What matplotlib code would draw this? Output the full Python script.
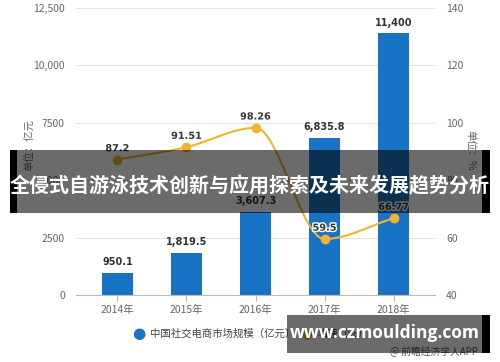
import matplotlib
matplotlib.use("Agg")
import matplotlib.pyplot as plt
import matplotlib.patheffects as pe
from matplotlib.path import Path
from matplotlib.patches import PathPatch, Rectangle
import numpy as np

plt.rcParams['font.family'] = ['Noto Sans CJK SC', 'DejaVu Sans']

categories = ["2014年", "2015年", "2016年", "2017年", "2018年"]
market_size = [950.1, 1819.5, 3607.3, 6835.8, 11400]
market_labels = ["950.1", "1,819.5", "3,607.3", "6,835.8", "11,400"]
growth = [87.2, 91.51, 98.26, 59.5, 66.77]
growth_labels = ["87.2", "91.51", "98.26", "59.5", "66.77"]
left_ticks = [0, 2500, 5000, 7500, 10000, 12500]
left_tick_labels = ["0", "2500", "5000", "7500", "10,000", "12,500"]
right_ticks = [40, 60, 80, 100, 120, 140]
legend_names = ["中国社交电商市场规模（亿元）", "增速（%）"]
title_text = "全侵式自游泳技术创新与应用探索及未来发展趋势分析"
site_text = "www.czmoulding.com"
source_text = "@ 前瞻经济学人APP"

BLUE = "#1873c5"
GOLD = "#efb432"
GRID = "#e3e3e3"
TICK = "#666666"

W, H = 500, 362
fig = plt.figure(figsize=(W / 100, H / 100), dpi=100)
ax = fig.add_axes([76 / W, 1 - 295 / H, (435 - 76) / W, (295 - 8) / H])
ax2 = ax.twinx()

x = np.arange(len(categories))
ax.bar(x, market_size, width=0.46, color=BLUE, zorder=2)
ax.set_xlim(-0.6, 4.6)
ax.set_ylim(0, 12500)
ax.set_yticks(left_ticks)
ax.set_yticklabels(left_tick_labels)
ax.set_xticks(x)
ax.set_xticklabels(categories)
ax.grid(axis='y', color=GRID, linewidth=0.8, zorder=0)
ax.set_axisbelow(True)
for s in ["top", "right", "left"]:
    ax.spines[s].set_visible(False)
ax.spines["bottom"].set_color("#bbbbbb")
ax.tick_params(axis='y', length=0, labelsize=7.5, labelcolor=TICK, pad=8)
ax.tick_params(axis='x', length=4, color="#bbbbbb", labelsize=7.5, labelcolor=TICK, pad=3)

for xi, v, lab in zip(x, market_size, market_labels):
    ax.text(xi, v + 250, lab, ha='center', va='bottom', fontsize=7, fontweight='bold',
            color="#333333", family=['DejaVu Sans'], zorder=5)

ax2.set_ylim(40, 140)
ax2.set_yticks(right_ticks)
for s in ["top", "right", "left", "bottom"]:
    ax2.spines[s].set_visible(False)
ax2.tick_params(axis='y', length=0, labelsize=7.5, labelcolor=TICK, pad=8)

# smooth curve through points with cubic bezier segments
ys = np.array(growth, dtype=float)
n = len(ys)
tang = np.zeros(n)
for i in range(n):
    if i == 0:
        tang[i] = ys[1] - ys[0]
    elif i == n - 1:
        tang[i] = ys[-1] - ys[-2]
    else:
        if (ys[i] - ys[i - 1]) * (ys[i + 1] - ys[i]) <= 0:
            tang[i] = 0
        else:
            tang[i] = (ys[i + 1] - ys[i - 1]) / 2
verts = [(x[0], ys[0])]
codes = [Path.MOVETO]
for i in range(n - 1):
    verts += [(x[i] + 1 / 3, ys[i] + tang[i] / 3),
              (x[i + 1] - 1 / 3, ys[i + 1] - tang[i + 1] / 3),
              (x[i + 1], ys[i + 1])]
    codes += [Path.CURVE4] * 3
ax2.add_patch(PathPatch(Path(verts, codes), facecolor='none', edgecolor=GOLD, linewidth=1.5, zorder=3))
ax2.plot(x, growth, linestyle='none', marker='o', markersize=6, color=GOLD, zorder=4)
for xi, v, lab in zip(x, growth, growth_labels):
    ax2.text(xi, v + 2.2, lab, ha='center', va='bottom', fontsize=7, fontweight='bold',
             color="#333333", family=['DejaVu Sans'], zorder=5,
             path_effects=[pe.withStroke(linewidth=2, foreground='white')])

# axis unit labels
fig.text(30 / W, 1 - 145 / H, "单位：亿元", rotation=90, ha='center', va='center', fontsize=7.5, color=TICK)
fig.text(470 / W, 1 - 150 / H, "单位：%", rotation=-90, ha='center', va='center', fontsize=7.5, color=TICK)

# legend
fig.text(139 / W, 1 - 334 / H, "●", ha='center', va='center', fontsize=11, color=BLUE, family=['DejaVu Sans'])
fig.text(150 / W, 1 - 334 / H, legend_names[0], ha='left', va='center', fontsize=7.5, color="#444444")
fig.text(307 / W, 1 - 334 / H, "●", ha='center', va='center', fontsize=9, color=GOLD, family=['DejaVu Sans'])
fig.text(318 / W, 1 - 334 / H, legend_names[1], ha='left', va='center', fontsize=7.5, color="#444444")

fig.text(478 / W, 1 - 352 / H, source_text, ha='right', va='center', fontsize=7, color="#555555")

# title banner overlay
fig.patches.append(Rectangle((10 / W, 1 - 213 / H), 480 / W, 63 / H, transform=fig.transFigure,
                             facecolor='black', alpha=0.58, edgecolor='none', zorder=10))
fig.patches.append(Rectangle((10 / W, 1 - 213 / H), 7 / W, 63 / H, transform=fig.transFigure,
                             facecolor='black', edgecolor='none', zorder=11))
fig.patches.append(Rectangle((482 / W, 1 - 213 / H), 8 / W, 63 / H, transform=fig.transFigure,
                             facecolor='black', edgecolor='none', zorder=11))
fig.text(250 / W, 1 - 186 / H, title_text, ha='center', va='center', fontsize=14.4,
         fontweight='bold', color='white', zorder=12)

# site banner overlay
fig.patches.append(Rectangle((287 / W, 1 - 353 / H), 203 / W, 38 / H, transform=fig.transFigure,
                             facecolor='black', alpha=0.58, edgecolor='none', zorder=10))
fig.patches.append(Rectangle((482 / W, 1 - 353 / H), 8 / W, 38 / H, transform=fig.transFigure,
                             facecolor='black', edgecolor='none', zorder=11))
fig.text(385 / W, 1 - 333 / H, site_text, ha='center', va='center', fontsize=12.5,
         fontweight='bold', color='white', zorder=12, family=['Open Sans', 'DejaVu Sans'])

fig.savefig("out.png", dpi=100)
